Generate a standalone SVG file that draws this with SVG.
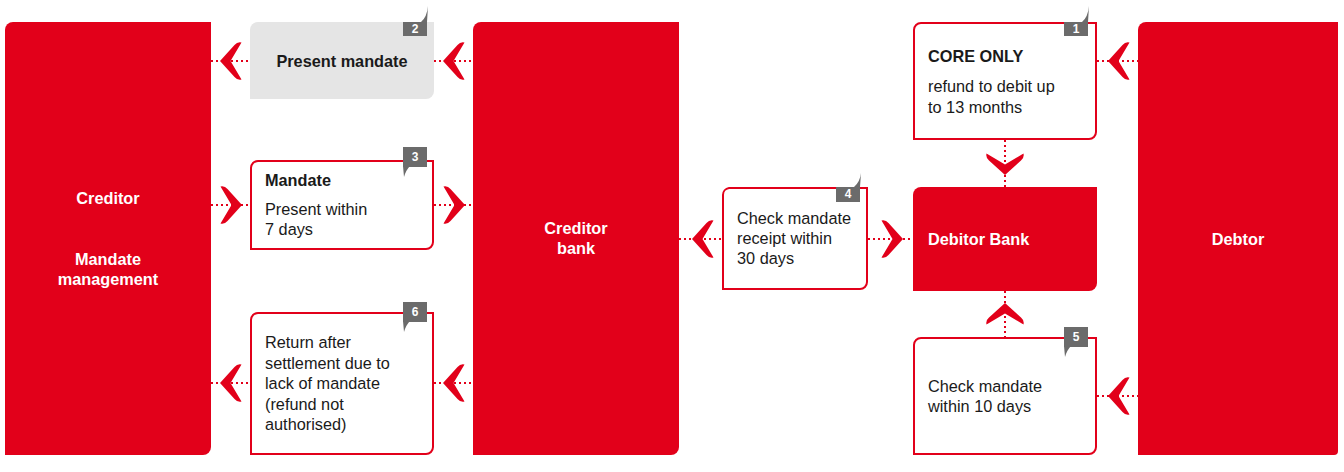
<svg xmlns="http://www.w3.org/2000/svg" xmlns:xlink="http://www.w3.org/1999/xlink" width="1344" height="472" viewBox="0 0 1344 472">
<style>
.panel{fill:#e2001a}
.box{fill:#fff;stroke:#e2001a;stroke-width:2}
.grey{fill:#e5e5e5}
.badge{fill:#6b6b6b}
.bnum{font-family:"Liberation Sans",Arial,sans-serif;font-size:12px;font-weight:bold;fill:#fff;text-anchor:middle}
.t{font-family:"Liberation Sans",Arial,sans-serif;font-size:16.3px;fill:#1a1a1a}
.b{font-weight:bold}
.w{font-family:"Liberation Sans",Arial,sans-serif;font-size:16.3px;font-weight:bold;fill:#fff}
.c{text-anchor:middle}
.dot{stroke:#e2001a;stroke-width:2;stroke-dasharray:2 3;fill:none}
.chev{fill:#e2001a}
</style>
<defs>
<path id="chev" d="M0,0 L14.5,-16 Q17.5,-19.5 21.5,-18.5 L10.5,0 L21.5,18.5 Q17.5,19.5 14.5,16 Z"/>
</defs>
<rect width="1344" height="472" fill="#fff"/>

<g id="connectors">
<path class="dot" d="M211,61H250M434,61H473M211,205H250M434,205H473M211,383H250M434,383H473M679,239H722M868,239H913M1005,140V187M1005,291V337M1097,61H1138M1097,396H1138"/>
<use xlink:href="#chev" class="chev" transform="translate(220,61)"/>
<use xlink:href="#chev" class="chev" transform="translate(443,61)"/>
<use xlink:href="#chev" class="chev" transform="translate(242,205) rotate(180)"/>
<use xlink:href="#chev" class="chev" transform="translate(465,205) rotate(180)"/>
<use xlink:href="#chev" class="chev" transform="translate(220,383)"/>
<use xlink:href="#chev" class="chev" transform="translate(443,383)"/>
<use xlink:href="#chev" class="chev" transform="translate(692,239)"/>
<use xlink:href="#chev" class="chev" transform="translate(903,239) rotate(180)"/>
<use xlink:href="#chev" class="chev" transform="translate(1005,175) rotate(-90)"/>
<use xlink:href="#chev" class="chev" transform="translate(1005,303) rotate(90)"/>
<use xlink:href="#chev" class="chev" transform="translate(1108,61)"/>
<use xlink:href="#chev" class="chev" transform="translate(1108,396)"/>
</g>

<g id="creditor">
<path class="panel" d="M13,22H211V447A8,8 0 0 1 203,455H5V30A8,8 0 0 1 13,22Z"/>
<text class="w c" x="108" y="204">Creditor</text>
<text class="w c" x="108" y="265">Mandate</text>
<text class="w c" x="108" y="285">management</text>
</g>

<g id="creditor-bank">
<path class="panel" d="M481,22H679V447A8,8 0 0 1 671,455H473V30A8,8 0 0 1 481,22Z"/>
<text class="w c" x="576" y="234">Creditor</text>
<text class="w c" x="576" y="254">bank</text>
</g>

<g id="debtor">
<path class="panel" d="M1146,22H1338V451A4,4 0 0 1 1334,455H1138V30A8,8 0 0 1 1146,22Z"/>
<text class="w c" x="1238" y="245">Debtor</text>
</g>

<g id="debitor-bank">
<path class="panel" d="M921,187H1097V283A8,8 0 0 1 1089,291H913V195A8,8 0 0 1 921,187Z"/>
<text class="w" x="928" y="245">Debitor Bank</text>
</g>

<g id="step2">
<path class="grey" d="M258,22H434V91A8,8 0 0 1 426,99H250V30A8,8 0 0 1 258,22Z"/>
<rect class="badge" x="403" y="22" width="24" height="14"/>
<path class="badge" d="M421,22Q427,17 428,6L427,22Z"/>
<text class="bnum" x="415" y="33">2</text>
<text class="t b c" x="342" y="67">Present mandate</text>
</g>

<g id="step3">
<path class="box" d="M258,161H433V242A7,7 0 0 1 426,249H251V168A7,7 0 0 1 258,161Z"/>
<rect class="badge" x="403" y="147" width="24" height="20"/>
<path class="badge" d="M403,166L404,177Q406,170 410,166Z"/>
<text class="bnum" x="415" y="161">3</text>
<text class="t b" x="265" y="186">Mandate</text>
<text class="t" x="265" y="215">Present within</text>
<text class="t" x="265" y="235">7 days</text>
</g>

<g id="step6">
<path class="box" d="M258,313H433V447A7,7 0 0 1 426,454H251V320A7,7 0 0 1 258,313Z"/>
<rect class="badge" x="403" y="302" width="24" height="20"/>
<path class="badge" d="M403,321L404,332Q406,325 410,321Z"/>
<text class="bnum" x="415" y="316">6</text>
<text class="t" x="265" y="348">Return after</text>
<text class="t" x="265" y="369">settlement due to</text>
<text class="t" x="265" y="389">lack of mandate</text>
<text class="t" x="265" y="410">(refund not</text>
<text class="t" x="265" y="430">authorised)</text>
</g>

<g id="step4">
<path class="box" d="M729,188H867V282A7,7 0 0 1 860,289H723V195A7,7 0 0 1 729,188Z"/>
<rect class="badge" x="836" y="187" width="24" height="15"/>
<path class="badge" d="M854,187Q860,182 861,173L860,187Z"/>
<text class="bnum" x="848" y="198">4</text>
<text class="t" x="737" y="224">Check mandate</text>
<text class="t" x="737" y="244">receipt within</text>
<text class="t" x="737" y="264">30 days</text>
</g>

<g id="step1">
<path class="box" d="M921,23H1096V132A7,7 0 0 1 1089,139H914V30A7,7 0 0 1 921,23Z"/>
<rect class="badge" x="1064" y="22" width="24" height="14"/>
<path class="badge" d="M1082,22Q1088,17 1089,6L1088,22Z"/>
<text class="bnum" x="1076" y="33">1</text>
<text class="t b" x="928" y="62">CORE ONLY</text>
<text class="t" x="928" y="92">refund to debit up</text>
<text class="t" x="928" y="113">to 13 months</text>
</g>

<g id="step5">
<path class="box" d="M921,338H1096V447A7,7 0 0 1 1089,454H914V345A7,7 0 0 1 921,338Z"/>
<rect class="badge" x="1064" y="327" width="24" height="20"/>
<path class="badge" d="M1064,346L1065,357Q1067,350 1071,346Z"/>
<text class="bnum" x="1076" y="341">5</text>
<text class="t" x="928" y="392">Check mandate</text>
<text class="t" x="928" y="412">within 10 days</text>
</g>
</svg>
